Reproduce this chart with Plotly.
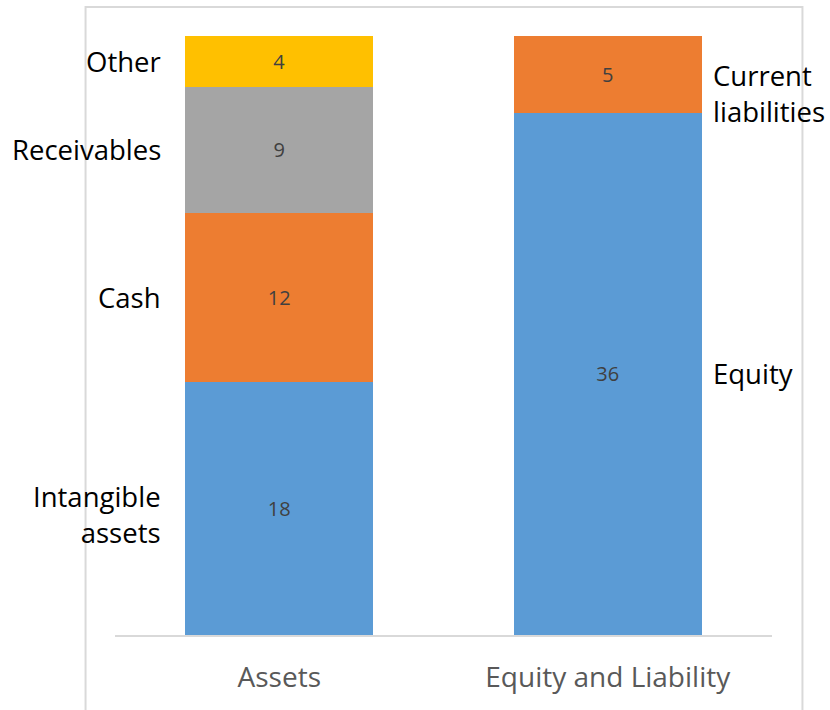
import plotly.graph_objects as go

categories = ["Assets", "Equity and Liability"]
# values per series: [Assets, Equity and Liability] (labels shown rounded)
intangible = [18, None]
cash = [12, None]
receivables = [9, None]
other = [3.6, None]
equity = [None, 36]
current_liab = [None, 5.3]

colors = {
    "Intangible assets": "#5B9BD5",
    "Cash": "#ED7D31",
    "Receivables": "#A5A5A5",
    "Other": "#FFC000",
    "Equity": "#5B9BD5",
    "Current liabilities": "#ED7D31",
}
series = [
    ("Intangible assets", intangible),
    ("Cash", cash),
    ("Receivables", receivables),
    ("Other", other),
    ("Equity", equity),
    ("Current liabilities", current_liab),
]
label_text = {
    "Intangible assets": "Intangible<br>assets",
    "Cash": "Cash",
    "Receivables": "Receivables",
    "Other": "Other",
    "Equity": "Equity",
    "Current liabilities": "Current<br>liabilities",
}
label_yshift = {"Intangible assets": -6, "Current liabilities": -19}

FONT = "Open Sans"
BAR_W = 0.571

fig = go.Figure()
for name, vals in series:
    fig.add_trace(go.Bar(
        x=categories, y=[v if v is not None else 0 for v in vals],
        name=name, marker=dict(color=colors[name], line=dict(width=0)),
        width=BAR_W,
        text=[f"{v:.0f}" if v is not None else "" for v in vals],
        textposition="inside", insidetextanchor="middle",
        textfont=dict(family=FONT, size=20, color="#404040"),
        hoverinfo="skip",
    ))

# side labels positioned at segment centers (percent scale)
totals = [0, 0]
for name, vals in series:
    for i, v in enumerate(vals):
        if v is not None:
            totals[i] += v
cum = [0, 0]
annotations = []
for name, vals in series:
    for i, v in enumerate(vals):
        if v is None:
            continue
        mid = (cum[i] + v / 2) / totals[i] * 100
        cum[i] += v
        left = i == 0
        annotations.append(dict(
            x=i - BAR_W / 2 if left else i + BAR_W / 2, y=mid,
            xref="x", yref="y",
            text=label_text[name], showarrow=False,
            xanchor="right" if left else "left", yanchor="middle",
            align="right" if left else "left",
            xshift=-22 if left else 9,
            yshift=label_yshift.get(name, 0),
            font=dict(family=FONT, size=27.5, color="#000000")))

L, R, T, B = 114.5, 57.5, 36, 75
pw, ph = 830 - L - R, 710 - T - B
shapes = [dict(
    type="rect", xref="paper", yref="paper",
    x0=(85 - L) / pw, x1=(803 - L) / pw,
    y0=-(760 - (710 - B)) / ph, y1=((710 - B) - 7) / ph,
    line=dict(color="#D9D9D9", width=2), fillcolor="rgba(0,0,0,0)", layer="below")]

fig.update_layout(
    barmode="stack", barnorm="percent",
    width=830, height=710,
    margin=dict(l=L, r=R, t=T, b=B, pad=0),
    paper_bgcolor="white", plot_bgcolor="white",
    showlegend=False,
    annotations=annotations, shapes=shapes,
    xaxis=dict(range=[-0.5, 1.5], showgrid=False, zeroline=False,
               showline=True, linecolor="#D9D9D9", linewidth=2,
               ticks="", ticklabelstandoff=16,
               tickfont=dict(family=FONT, size=28, color="#595959")),
    yaxis=dict(range=[0, 100], visible=False, showgrid=False, zeroline=False),
)
fig.write_html("out.html", config={"displayModeBar": False, "staticPlot": True},
               post_script="document.body.style.margin='0';document.body.style.overflow='hidden';")
